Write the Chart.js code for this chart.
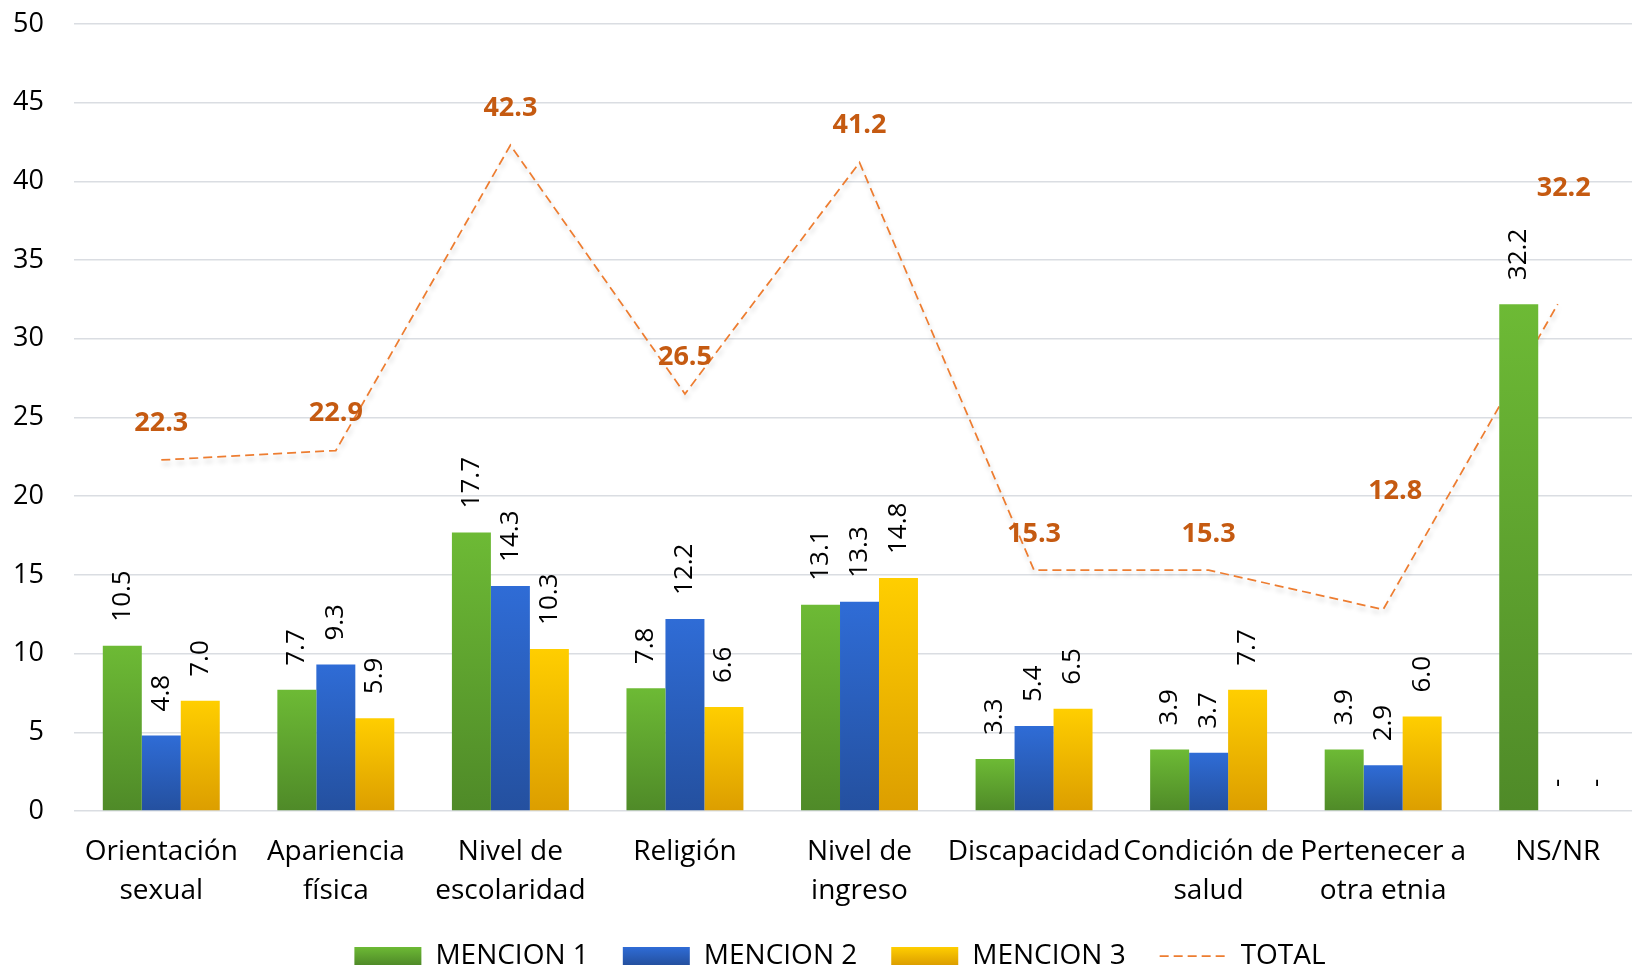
<!DOCTYPE html>
<html>
<head>
<meta charset="utf-8">
<script src="https://cdn.jsdelivr.net/npm/chart.js@4.4.1/dist/chart.umd.min.js"></script>
<style>
html,body{margin:0;padding:0;background:#fff;overflow:hidden;}
#wrap{width:1632px;height:966px;overflow:hidden;position:relative;}
#box{width:1680px;height:980px;position:absolute;left:0;top:0;}
</style>
</head>
<body>
<div id="wrap"><div id="box"><canvas id="c"></canvas></div></div>
<script>
// data
const categories=[['Orientación','sexual'],['Apariencia','física'],['Nivel de','escolaridad'],'Religión',['Nivel de','ingreso'],'Discapacidad',['Condición de','salud'],['Pertenecer a','otra etnia'],'NS/NR'];
const mencion1=[10.5,7.7,17.7,7.8,13.1,3.3,3.9,3.9,32.2];
const mencion2=[4.8,9.3,14.3,12.2,13.3,5.4,3.7,2.9,null];
const mencion3=[7.0,5.9,10.3,6.6,14.8,6.5,7.7,6.0,null];
const total=[22.3,22.9,42.3,26.5,41.2,15.3,15.3,12.8,32.2];
const seriesNames=['MENCION 1','MENCION 2','MENCION 3','TOTAL'];
const yMin=0,yMax=50,yStep=5;

// label placement for TOTAL (lift above point, sideways shift)
const totLift=[37,37,37,37,37,36,36,118,116];
const totShift=[0,0,0,0,0,0,0,12,6];

const FONT='"Open Sans", "DejaVu Sans", sans-serif';
const grads=[['#6DBA35','#4F8A28'],['#2F6CD6','#24509F'],['#FFCE00','#DC9E00']];

function barGrad(k){
 const [top,bot]=grads[k];
 return ctx=>{
  const ch=ctx.chart,ys=ch.scales.y;
  if(!ys||ctx.raw==null) return top;
  const y0=ys.getPixelForValue(0),y1=ys.getPixelForValue(ctx.raw);
  if(!isFinite(y0)||!isFinite(y1)||y0===y1) return top;
  const g=ch.ctx.createLinearGradient(0,y1,0,y0);
  g.addColorStop(0,top);g.addColorStop(1,bot);
  return g;
 };
}

const valuePlugin={
 id:'vals',
 beforeDatasetDraw(chart,args){
  if(args.index===3){const c=chart.ctx;c.save();c.shadowColor='rgba(0,0,0,0.2)';c.shadowBlur=5;c.shadowOffsetY=4;c.shadowOffsetX=1;}
 },
 afterDatasetDraw(chart,args){
  if(args.index===3) chart.ctx.restore();
 },
 afterDatasetsDraw(chart){
  const c=chart.ctx,ys=chart.scales.y;
  c.save();
  [0,1,2].forEach(di=>{
   const meta=chart.getDatasetMeta(di);const vals=chart.data.datasets[di].data;
   meta.data.forEach((el,i)=>{
    const v=vals[i];
    const txt=v==null?'-':v.toFixed(1);
    const yTop=v==null?ys.getPixelForValue(0):el.y;
    c.save();c.translate(el.x,yTop-24);c.rotate(-Math.PI/2);
    c.font='26px '+FONT;c.fillStyle='#000';c.textAlign='left';c.textBaseline='middle';
    c.fillText(txt,0,0);c.restore();
   });
  });
  const lm=chart.getDatasetMeta(3);
  c.font='bold 27px '+FONT;c.fillStyle='#C55A11';c.textAlign='center';c.textBaseline='middle';
  lm.data.forEach((pt,i)=>{c.fillText(total[i].toFixed(1),pt.x+totShift[i],pt.y-totLift[i]);});
  c.restore();
 }
};

Chart.defaults.font.family=FONT;
Chart.defaults.color='#000';

new Chart(document.getElementById('c'),{
 type:'bar',
 data:{labels:categories,datasets:[
  {label:seriesNames[0],data:mencion1,backgroundColor:barGrad(0),categoryPercentage:0.67,barPercentage:1.0},
  {label:seriesNames[1],data:mencion2,backgroundColor:barGrad(1),categoryPercentage:0.67,barPercentage:1.0},
  {label:seriesNames[2],data:mencion3,backgroundColor:barGrad(2),categoryPercentage:0.67,barPercentage:1.0},
  {type:'line',label:seriesNames[3],data:total,borderColor:'#ED7D31',backgroundColor:'#ED7D31',borderWidth:1.75,borderDash:[9,5],pointRadius:0,pointHoverRadius:0,tension:0,fill:false}
 ]},
 options:{
  responsive:true,maintainAspectRatio:false,animation:false,devicePixelRatio:1,
  layout:{padding:{left:0,right:0,top:24,bottom:0}},
  plugins:{
   tooltip:{enabled:false},
   legend:{position:'bottom',
    labels:{usePointStyle:true,pointStyleWidth:67,boxHeight:18,padding:34,font:{size:28},color:'#000',
     sort:(a,b)=>a.datasetIndex-b.datasetIndex,
     generateLabels(chart){
      const items=Chart.defaults.plugins.legend.labels.generateLabels(chart);
      const top=chart.height-33,bot=chart.height-15;
      items.forEach(it=>{
       if(it.datasetIndex<3){
        const g=chart.ctx.createLinearGradient(0,top,0,bot);
        g.addColorStop(0,grads[it.datasetIndex][0]);g.addColorStop(1,grads[it.datasetIndex][1]);
        it.fillStyle=g;it.pointStyle='rect';it.lineWidth=0;it.strokeStyle='transparent';
       }else{
        it.pointStyle='line';it.lineWidth=1.75;it.lineDash=[9,5];it.strokeStyle='#ED7D31';
       }
      });
      return items;
     }}}
  },
  scales:{
   x:{grid:{display:false,drawTicks:false},border:{display:false},
    ticks:{padding:21,font:{size:28,lineHeight:1.4},color:'#000',maxRotation:0,autoSkip:false},
    afterFit(s){s.height=97;}},
   y:{min:yMin,max:yMax,ticks:{stepSize:yStep,padding:0,font:{size:27},color:'#000'},
    grid:{color:'#DADDE2',lineWidth:1.5,drawTicks:true,tickLength:30,tickColor:'rgba(0,0,0,0)'},border:{display:false},
    afterFit(s){s.width=74;}},
   yPad:{position:'right',display:true,grid:{display:false,drawTicks:false},ticks:{display:false},border:{display:false},
    afterFit(s){s.width=35;}}
  }
 },
 plugins:[valuePlugin]
});
</script>
</body>
</html>
